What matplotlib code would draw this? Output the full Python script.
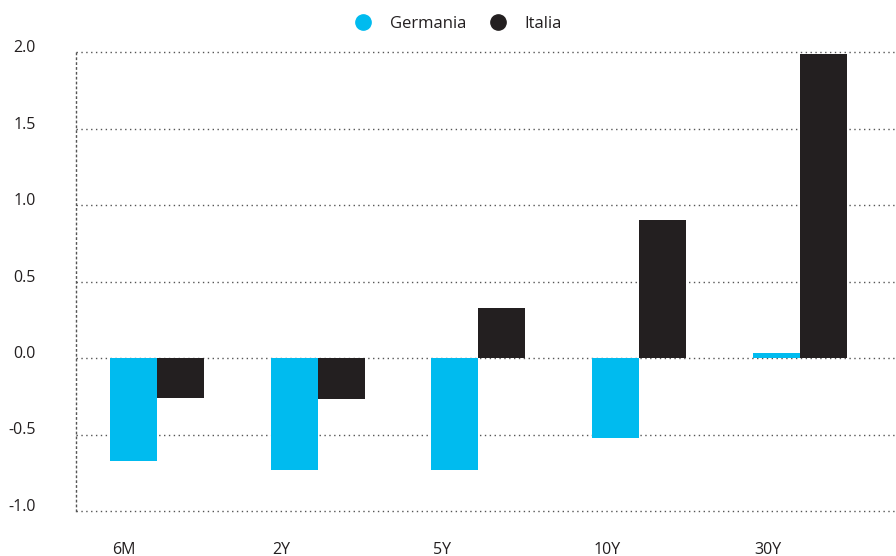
import matplotlib
matplotlib.use("Agg")
import matplotlib.pyplot as plt
import matplotlib.transforms as mtransforms
import numpy as np
from matplotlib.lines import Line2D

categories = ["6M", "2Y", "5Y", "10Y", "30Y"]
germania = [-0.67, -0.73, -0.73, -0.52, 0.03]
italia = [-0.26, -0.27, 0.33, 0.90, 1.99]
yticks = [-1.0, -0.5, 0.0, 0.5, 1.0, 1.5, 2.0]

cyan = "#00BBEF"
dark = "#231F20"
txt = "#231F20"

plt.rcParams['font.family'] = ['Open Sans', 'DejaVu Sans']

fig = plt.figure(figsize=(8.96, 5.56), dpi=100)
ax = fig.add_axes([76/896, 45/556, 1 - 76/896, (511-52)/556])

x = np.arange(len(categories))
w = 0.293
ax.bar(x - w/2, germania, width=w, color=cyan, linewidth=0, zorder=3)
ax.bar(x + w/2, italia, width=w, color=dark, linewidth=0, zorder=3)

ax.set_xlim(-0.505, 4.6)
ax.set_ylim(-1.0, 2.0)
ax.set_yticks(yticks)
ax.set_yticklabels([f"{v:.1f}" for v in yticks], fontsize=11.5, color=txt)
ax.set_xticks(x - w + 0.01)
ax.set_xticklabels(categories, fontsize=11.5, color=txt, ha='left')
ax.tick_params(axis='both', length=0)
ax.tick_params(axis='y', pad=29)
ax.tick_params(axis='x', pad=22)

up = mtransforms.ScaledTranslation(0, 6/100, fig.dpi_scale_trans)
for lbl in ax.get_yticklabels():
    lbl.set_transform(lbl.get_transform() + up)

ax.grid(axis='y', linestyle=(0, (1, 2.5)), color="#555555", linewidth=1, zorder=0)
for gl in ax.get_ygridlines():
    gl.set_clip_on(False)
for s in ["top", "right", "bottom"]:
    ax.spines[s].set_visible(False)
ax.spines["left"].set_linestyle((0, (1, 2.5)))
ax.spines["left"].set_color("#555555")
ax.spines["left"].set_linewidth(1)

handles = [Line2D([], [], marker='o', linestyle='none', markersize=11, color=cyan, label="Germania"),
           Line2D([], [], marker='o', linestyle='none', markersize=11, color=dark, label="Italia")]
leg = fig.legend(handles=handles, loc='center', bbox_to_anchor=(454/896, 1 - 24/556), ncol=2,
                 frameon=False, fontsize=12, handletextpad=0.6, columnspacing=0.9)
for t in leg.get_texts():
    t.set_color(txt)

fig.savefig("out.png", dpi=100)
